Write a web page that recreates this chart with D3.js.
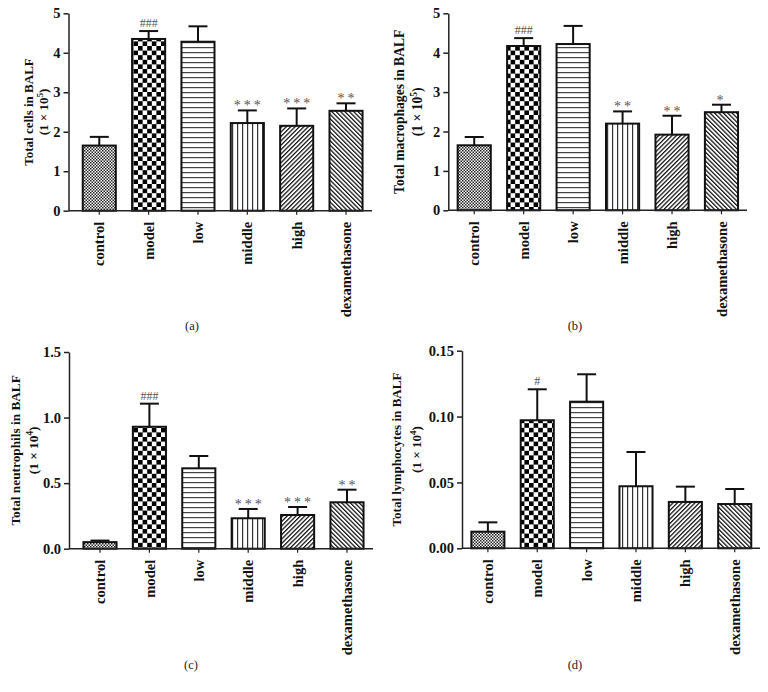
<!DOCTYPE html>
<html>
<head>
<meta charset="utf-8">
<script src="https://cdn.jsdelivr.net/npm/d3@7"></script>
<style>
  html, body { margin: 0; padding: 0; background: #fff; }
  svg { display: block; }
  text { font-family: "Liberation Serif", "DejaVu Serif", serif; }
</style>
</head>
<body>
<svg id="chart" width="768" height="692"></svg>
<script>
// ---------- data ----------
const categories = ["control", "model", "low", "middle", "high", "dexamethasone"];

const cellsMean = [1.65, 4.35, 4.28, 2.22, 2.15, 2.53];
const cellsErr  = [0.22, 0.20, 0.39, 0.32, 0.44, 0.19];
const cellsSig  = ["", "###", "", "***", "***", "**"];
const cellsTicks = [0, 1, 2, 3, 4, 5];

const macMean = [1.65, 4.17, 4.22, 2.20, 1.92, 2.49];
const macErr  = [0.21, 0.20, 0.46, 0.31, 0.48, 0.19];
const macSig  = ["", "###", "", "**", "**", "*"];
const macTicks = [0, 1, 2, 3, 4, 5];

const neuMean = [0.05, 0.93, 0.613, 0.232, 0.257, 0.354];
const neuErr  = [0.012, 0.176, 0.094, 0.071, 0.061, 0.096];
const neuSig  = ["", "###", "", "***", "***", "**"];
const neuTicks = [0, 0.5, 1.0, 1.5];

const lymMean = [0.0126, 0.0972, 0.1113, 0.0471, 0.0352, 0.0336];
const lymErr  = [0.0071, 0.0235, 0.0208, 0.0260, 0.0116, 0.0114];
const lymSig  = ["", "#", "", "", "", ""];
const lymTicks = [0, 0.05, 0.10, 0.15];

const patternIds = ["pControl", "pModel", "pLow", "pMiddle", "pHigh", "pDex"];

// ---------- layout ----------
const panels = [
  { mean: cellsMean, err: cellsErr, sig: cellsSig, ticks: cellsTicks, fmt: "d",
    title: "Total cells in BALF", exp: "5", caption: "(a)",
    ax: 68.5, yTop: 13.3, yBot: 210.7, x0: 74.6, x1: 370.7, xEnd: 372,
    lab1: 33, lab2: 47.5, capX: 192, capY: 330, fs: 13 },
  { mean: macMean, err: macErr, sig: macSig, ticks: macTicks, fmt: "d",
    title: "Total macrophages in BALF", exp: "5", caption: "(b)",
    ax: 448.3, yTop: 13.3, yBot: 210.3, x0: 449.5, x1: 746.2, xEnd: 747,
    lab1: 403.5, lab2: 421.5, capX: 575, capY: 330, fs: 13.6 },
  { mean: neuMean, err: neuErr, sig: neuSig, ticks: neuTicks, fmt: ".1f",
    title: "Total neutrophils in BALF", exp: "4", caption: "(c)",
    ax: 69, yTop: 352, yBot: 548.7, x0: 75.3, x1: 371.7, xEnd: 373,
    lab1: 19.5, lab2: 37.5, capX: 191, capY: 669, fs: 13.3 },
  { mean: lymMean, err: lymErr, sig: lymSig, ticks: lymTicks, fmt: ".2f",
    title: "Total lymphocytes in BALF", exp: "4", caption: "(d)",
    ax: 462, yTop: 350.7, yBot: 548.3, x0: 463.2, x1: 759.4, xEnd: 760,
    lab1: 400.5, lab2: 420.5, capX: 575, capY: 669, fs: 13.1 }
];

const svg = d3.select("#chart");

// ---------- patterns ----------
const defs = svg.append("defs");
function checker(id, s, color) {
  const p = defs.append("pattern").attr("id", id).attr("patternUnits", "userSpaceOnUse")
    .attr("width", 2 * s).attr("height", 2 * s);
  p.append("rect").attr("width", 2 * s).attr("height", 2 * s).attr("fill", "#fff");
  p.append("rect").attr("x", 0).attr("y", 0).attr("width", s).attr("height", s).attr("fill", color);
  p.append("rect").attr("x", s).attr("y", s).attr("width", s).attr("height", s).attr("fill", color);
}
checker("pControl", 1.5, "#222");
checker("pModel", 4.6, "#000");
// horizontal lines
{
  const p = defs.append("pattern").attr("id", "pLow").attr("patternUnits", "userSpaceOnUse")
    .attr("width", 5).attr("height", 5);
  p.append("rect").attr("width", 5).attr("height", 5).attr("fill", "#fff");
  p.append("rect").attr("x", 0).attr("y", 2).attr("width", 5).attr("height", 1.2).attr("fill", "#444");
}
// vertical lines
{
  const p = defs.append("pattern").attr("id", "pMiddle").attr("patternUnits", "userSpaceOnUse")
    .attr("width", 5).attr("height", 5);
  p.append("rect").attr("width", 5).attr("height", 5).attr("fill", "#fff");
  p.append("rect").attr("x", 2).attr("y", 0).attr("width", 1.2).attr("height", 5).attr("fill", "#333");
}
function diag(id, angle) {
  const w = 3.1;
  const p = defs.append("pattern").attr("id", id).attr("patternUnits", "userSpaceOnUse")
    .attr("width", w).attr("height", w).attr("patternTransform", `rotate(${angle})`);
  p.append("rect").attr("width", w).attr("height", w).attr("fill", "#fff");
  p.append("rect").attr("x", 0).attr("y", 0).attr("width", 1.25).attr("height", w).attr("fill", "#111");
}
diag("pHigh", 45);
diag("pDex", -45);

// ---------- draw panels ----------
panels.forEach(cfg => {
  const g = svg.append("g");
  const yMax = cfg.ticks[cfg.ticks.length - 1];
  const y = d3.scaleLinear().domain([0, yMax]).range([cfg.yBot, cfg.yTop]);
  const x = d3.scaleBand().domain(categories).range([cfg.x0, cfg.x1])
    .paddingInner(0.33).paddingOuter(0.165);

  const rows = categories.map((c, i) => ({ c, m: cfg.mean[i], e: cfg.err[i], s: cfg.sig[i], p: patternIds[i] }));

  // error bars
  const eb = g.append("g").attr("stroke", "#111").attr("stroke-width", 2).attr("fill", "none");
  rows.forEach(d => {
    const cx = x(d.c) + x.bandwidth() / 2;
    eb.append("line").attr("x1", cx).attr("x2", cx).attr("y1", y(d.m)).attr("y2", y(d.m + d.e));
    eb.append("line").attr("x1", cx - 9.5).attr("x2", cx + 9.5).attr("y1", y(d.m + d.e)).attr("y2", y(d.m + d.e));
  });

  // bars
  g.append("g").selectAll("rect").data(rows).join("rect")
    .attr("x", d => x(d.c))
    .attr("y", d => y(d.m))
    .attr("width", x.bandwidth())
    .attr("height", d => y(0) - y(d.m))
    .attr("fill", d => `url(#${d.p})`)
    .attr("stroke", "#111")
    .attr("stroke-width", 2);

  // significance marks
  g.append("g").selectAll("text").data(rows.filter(d => d.s)).join("text")
    .attr("x", d => x(d.c) + x.bandwidth() / 2 + (d.s.startsWith("*") && d.s.length > 1 ? 1.5 : 0))
    .attr("y", d => y(d.m + d.e) - (d.s.startsWith("*") ? 0 : 4))
    .attr("text-anchor", "middle")
    .attr("fill", "#555")
    .attr("font-size", d => d.s.startsWith("*") ? 14 : 12)
    .attr("letter-spacing", d => d.s.startsWith("*") ? "3px" : "0px")
    .text(d => d.s);

  // y axis
  const yAxis = d3.axisLeft(y).tickValues(cfg.ticks).tickFormat(d3.format(cfg.fmt))
    .tickSize(5).tickSizeOuter(0).tickPadding(3);
  const ya = g.append("g").attr("transform", `translate(${cfg.ax},0)`).call(yAxis);
  ya.select(".domain").attr("stroke", "#222").attr("stroke-width", 1.5);
  ya.selectAll(".tick line").attr("stroke", "#222").attr("stroke-width", 1.5);
  ya.selectAll(".tick text").attr("font-family", "'Liberation Serif', serif")
    .attr("font-weight", "bold").attr("font-size", 14.5).attr("fill", "#111");

  // x axis
  const xAxis = d3.axisBottom(x).tickSize(4).tickSizeOuter(0).tickFormat("");
  const xa = g.append("g").attr("transform", `translate(0,${cfg.yBot})`).call(xAxis);
  xa.select(".domain").remove();
  xa.selectAll(".tick line").attr("stroke", "#222").attr("stroke-width", 1.2);
  g.append("line").attr("x1", cfg.ax).attr("x2", cfg.xEnd).attr("y1", cfg.yBot).attr("y2", cfg.yBot)
    .attr("stroke", "#222").attr("stroke-width", 1.5);

  // category labels
  g.append("g").selectAll("text").data(categories).join("text")
    .attr("transform", d => `translate(${x(d) + x.bandwidth() / 2},${cfg.yBot + 11}) rotate(-90)`)
    .attr("text-anchor", "end")
    .attr("dy", "0.35em")
    .attr("font-weight", "bold")
    .attr("font-size", 14.6)
    .attr("fill", "#111")
    .text(d => d);

  // y label
  const yc = (cfg.yTop + cfg.yBot) / 2;
  g.append("text")
    .attr("transform", `translate(${cfg.lab1},${yc}) rotate(-90)`)
    .attr("text-anchor", "middle")
    .attr("font-weight", "bold").attr("font-size", cfg.fs).attr("fill", "#111")
    .text(cfg.title);
  const l2 = g.append("text")
    .attr("transform", `translate(${cfg.lab2},${yc}) rotate(-90)`)
    .attr("text-anchor", "middle")
    .attr("font-weight", "bold").attr("font-size", cfg.fs).attr("fill", "#111");
  l2.append("tspan").text("(1 × 10");
  l2.append("tspan").attr("dy", -5).attr("font-size", cfg.fs * 0.7).text(cfg.exp);
  l2.append("tspan").attr("dy", 5).text(")");

  // caption
  g.append("text").attr("x", cfg.capX).attr("y", cfg.capY)
    .attr("text-anchor", "middle").attr("font-size", 12.5).attr("fill", "#222")
    .text(cfg.caption);
});
</script>
</body>
</html>
